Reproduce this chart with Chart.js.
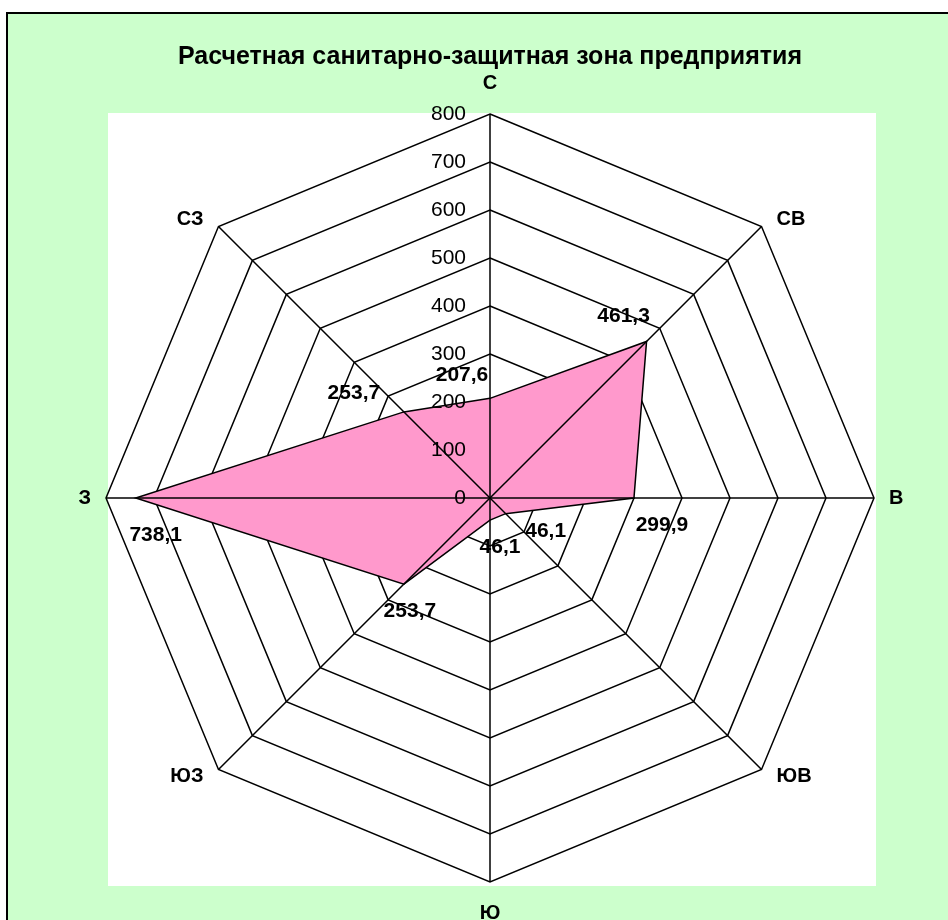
<!DOCTYPE html>
<html>
<head>
<meta charset="utf-8">
<title>Санитарно-защитная зона</title>
<script src="https://cdn.jsdelivr.net/npm/chart.js@4.4.0/dist/chart.umd.min.js"></script>
<style>
  html, body { margin: 0; padding: 0; background: #fff; }
  canvas { display: block; }
</style>
</head>
<body>
<canvas id="zone" width="948" height="920"></canvas>
<script>
// directions, clockwise from north
const directions = ['С', 'СВ', 'В', 'ЮВ', 'Ю', 'ЮЗ', 'З', 'СЗ'];
// calculated zone boundary, m
const zoneRadius = [207.6, 461.3, 299.9, 46.1, 46.1, 253.7, 738.1, 253.7];
const radiusTicks = [0, 100, 200, 300, 400, 500, 600, 700, 800];
const chartTitle = 'Расчетная санитарно-защитная зона предприятия';

const FONT = 'Arial, "Liberation Sans", sans-serif';
// value label offset from its point, px
const valueLabelShift = [[-28, -23], [-23, -25], [28, 27], [40, 18], [10, 27], [6, 27], [20, 37], [-50, -19]];

const fmt = v => v.toFixed(1).replace('.', ',');

// green frame with white plot area behind everything
const framePlugin = {
    id: 'frame',
    beforeDraw(chart) {
        const ctx = chart.ctx;
        ctx.save();
        ctx.fillStyle = '#ffffff';
        ctx.fillRect(0, 0, chart.width, chart.height);
        ctx.fillStyle = '#ccffcc';
        ctx.fillRect(8, 14, chart.width - 8, chart.height - 14);
        ctx.fillStyle = '#000000';
        ctx.fillRect(6, 12, 2, chart.height - 12);
        ctx.fillRect(6, 12, chart.width - 6, 2);
        ctx.fillStyle = '#ffffff';
        ctx.fillRect(108, 113, 768, 773);
        ctx.restore();
    }
};

// spokes, tick values, direction names and value labels over the filled area
const overlayPlugin = {
    id: 'overlay',
    afterDatasetsDraw(chart) {
        const ctx = chart.ctx;
        const scale = chart.scales.r;
        const max = radiusTicks[radiusTicks.length - 1];
        ctx.save();

        ctx.strokeStyle = '#000';
        ctx.lineWidth = 1.5;
        directions.forEach((d, i) => {
            const p = scale.getPointPositionForValue(i, max);
            ctx.beginPath();
            ctx.moveTo(scale.xCenter, scale.yCenter);
            ctx.lineTo(p.x, p.y);
            ctx.stroke();
        });

        ctx.fillStyle = '#000';
        ctx.textBaseline = 'middle';
        ctx.textAlign = 'right';
        ctx.font = '21px ' + FONT;
        radiusTicks.forEach(v => {
            const p = scale.getPointPositionForValue(0, v);
            ctx.fillText(String(v), p.x - 24, p.y);
        });

        // direction names: beside the outer vertex, above/below on the vertical axis
        ctx.font = 'bold 20px ' + FONT;
        directions.forEach((d, i) => {
            const p = scale.getPointPosition(i, scale.drawingArea);
            const c = (p.x - scale.xCenter) / scale.drawingArea;
            const s = (p.y - scale.yCenter) / scale.drawingArea;
            if (Math.abs(c) < 0.1) {
                ctx.textAlign = 'center';
                ctx.fillText(d, p.x, p.y + s * 31);
            } else {
                ctx.textAlign = c > 0 ? 'left' : 'right';
                ctx.fillText(d, p.x + Math.sign(c) * 15, p.y + s * 10);
            }
        });

        ctx.textAlign = 'center';
        ctx.font = 'bold 21px ' + FONT;
        zoneRadius.forEach((v, i) => {
            const p = scale.getPointPositionForValue(i, v);
            ctx.fillText(fmt(v), p.x + valueLabelShift[i][0], p.y + valueLabelShift[i][1]);
        });
        ctx.restore();
    }
};

new Chart(document.getElementById('zone'), {
    type: 'radar',
    data: {
        labels: directions,
        datasets: [{
            label: 'СЗЗ',
            data: zoneRadius,
            backgroundColor: '#ff99cc',
            borderColor: '#000',
            borderWidth: 1.5,
            pointRadius: 0,
            pointHoverRadius: 0,
            tension: 0
        }]
    },
    options: {
        responsive: false,
        animation: false,
        layout: {
            padding: { left: 106, right: 74, top: 0, bottom: 38 }
        },
        plugins: {
            legend: { display: false },
            tooltip: { enabled: false },
            title: {
                display: true,
                text: chartTitle,
                color: '#000',
                font: { family: FONT, size: 25, weight: 'bold', lineHeight: 1.2 },
                padding: { top: 42, bottom: 42 }
            }
        },
        scales: {
            r: {
                min: 0,
                max: 800,
                beginAtZero: true,
                ticks: { display: false, stepSize: 100 },
                pointLabels: { display: false },
                angleLines: { display: false },
                grid: { color: '#000', lineWidth: 1.5, circular: false }
            }
        }
    },
    plugins: [framePlugin, overlayPlugin]
});
</script>
</body>
</html>
